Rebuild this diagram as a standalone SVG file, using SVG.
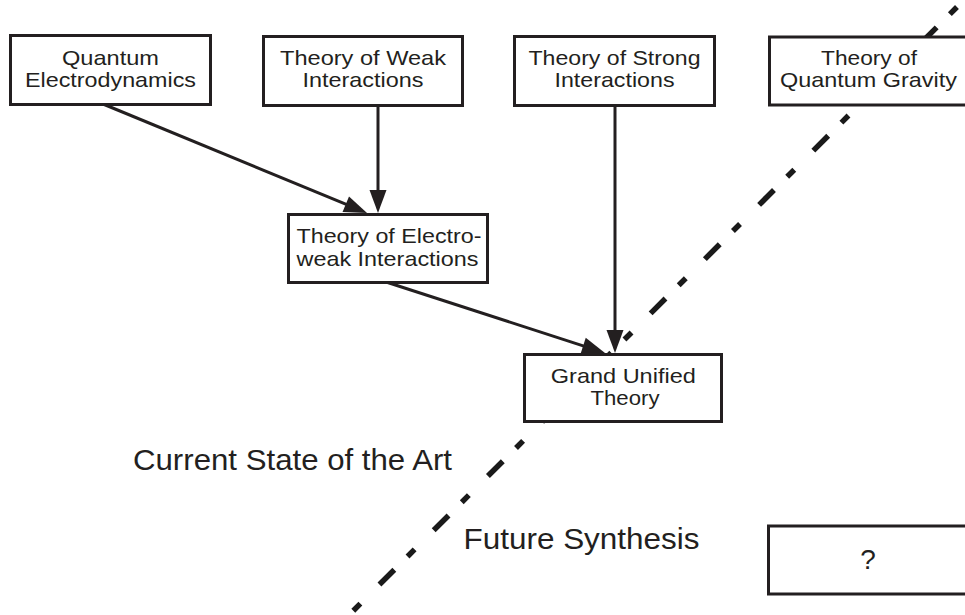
<svg xmlns="http://www.w3.org/2000/svg" width="965" height="615" viewBox="0 0 965 615">
<style>
  .box{fill:#fff;stroke:#231f20;stroke-width:3}
  .t{font-family:"Liberation Sans",Arial,sans-serif;font-size:21px;fill:#231f20;text-anchor:middle}
  .big{font-family:"Liberation Sans",Arial,sans-serif;font-size:29px;fill:#231f20}
  .edge{stroke:#231f20;stroke-width:3;fill:none;marker-end:url(#ah)}
  .divider{stroke:#1a1a1a;stroke-width:5.5;fill:none;stroke-dasharray:10 27 21 18.7;stroke-linecap:butt}
</style>
<defs>
  <marker id="ah" markerUnits="userSpaceOnUse" markerWidth="23" markerHeight="17" refX="13" refY="8.5" orient="auto" overflow="visible">
    <path d="M0,0 L23,8.5 L0,17 z" fill="#231f20"/>
  </marker>
</defs>
<rect width="965" height="615" fill="#fff"/>
<g id="divider">
  <line class="divider" x1="353.3" y1="610.7" x2="957" y2="7"/>
</g>
<g id="connectors">
  <line class="edge" x1="103" y1="104" x2="357.8" y2="209.2"/>
  <line class="edge" x1="378" y1="106" x2="378" y2="203"/>
  <line class="edge" x1="615" y1="106" x2="615" y2="343"/>
  <line class="edge" x1="383" y1="281" x2="595.5" y2="349.9"/>
</g>
<g id="qed">
  <rect class="box" x="10.5" y="35.5" width="200" height="69"/>
  <text class="t" x="110.5" y="65" textLength="97" lengthAdjust="spacingAndGlyphs">Quantum</text>
  <text class="t" x="110.5" y="87" textLength="171" lengthAdjust="spacingAndGlyphs">Electrodynamics</text>
</g>
<g id="weak">
  <rect class="box" x="263.5" y="36.5" width="199" height="69"/>
  <text class="t" x="363" y="65" textLength="166" lengthAdjust="spacingAndGlyphs">Theory of Weak</text>
  <text class="t" x="363" y="87" textLength="121" lengthAdjust="spacingAndGlyphs">Interactions</text>
</g>
<g id="strong">
  <rect class="box" x="514.5" y="36.5" width="200" height="69"/>
  <text class="t" x="614.5" y="65" textLength="172" lengthAdjust="spacingAndGlyphs">Theory of Strong</text>
  <text class="t" x="614.5" y="87" textLength="120" lengthAdjust="spacingAndGlyphs">Interactions</text>
</g>
<g id="gravity">
  <rect class="box" x="769.5" y="37" width="200" height="68"/>
  <text class="t" x="869" y="65" textLength="96" lengthAdjust="spacingAndGlyphs">Theory of</text>
  <text class="t" x="868.5" y="87" textLength="177" lengthAdjust="spacingAndGlyphs">Quantum Gravity</text>
</g>
<g id="electroweak">
  <rect class="box" x="288.5" y="214.5" width="199" height="68"/>
  <text class="t" x="389" y="243" textLength="185" lengthAdjust="spacingAndGlyphs">Theory of Electro-</text>
  <text class="t" x="387.5" y="265.5" textLength="182" lengthAdjust="spacingAndGlyphs">weak Interactions</text>
</g>
<g id="gut">
  <rect class="box" x="524.5" y="354.5" width="197" height="67"/>
  <text class="t" x="623.3" y="383" textLength="145" lengthAdjust="spacingAndGlyphs">Grand Unified</text>
  <text class="t" x="625" y="405" textLength="69" lengthAdjust="spacingAndGlyphs">Theory</text>
</g>
<g id="unknown">
  <rect class="box" x="768.5" y="526" width="200" height="68"/>
  <text class="t" x="868" y="569" style="font-size:28px">?</text>
</g>
<g id="labels">
  <text class="big" x="133" y="470" textLength="319" lengthAdjust="spacingAndGlyphs">Current State of the Art</text>
  <text class="big" x="463.5" y="549" textLength="236" lengthAdjust="spacingAndGlyphs">Future Synthesis</text>
</g>
</svg>
